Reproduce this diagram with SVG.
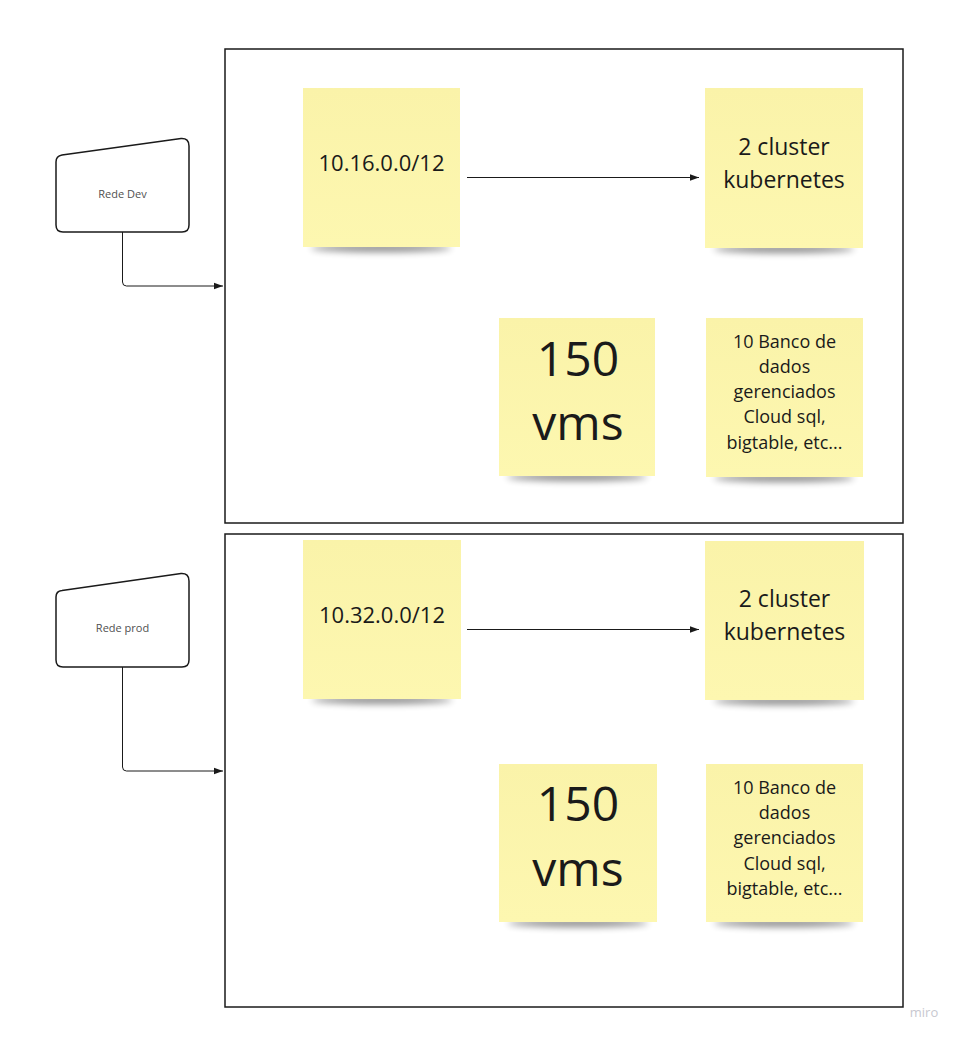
<svg xmlns="http://www.w3.org/2000/svg" width="962" height="1039" viewBox="0 0 962 1039">
<defs>
<style>
.frame{fill:#fff;stroke:#1a1a1a;stroke-width:1.5}
.net{fill:#fff;stroke:#1a1a1a;stroke-width:1.5}
.netlbl{font-family:"Open Sans","Liberation Sans",sans-serif;font-size:11px;fill:#505050;text-anchor:middle}
.sticky{fill:url(#sg)}
.st{font-family:"Open Sans","Liberation Sans",sans-serif;fill:#1a1a1a;text-anchor:middle}
.conn{fill:none;stroke:#1a1a1a;stroke-width:1}
.shadow{fill:#000;opacity:0.45;filter:url(#blur)}
</style>
<linearGradient id="sg" x1="0" y1="0" x2="0" y2="1">
<stop offset="0" stop-color="#faf3a9"/>
<stop offset="1" stop-color="#fdf7b0"/>
</linearGradient>
<filter id="blur" x="-20%" y="-200%" width="140%" height="500%"><feGaussianBlur stdDeviation="3.5"/></filter>
<marker id="arr" markerWidth="10" markerHeight="8" refX="9" refY="4" orient="auto" markerUnits="userSpaceOnUse">
<path d="M0,0.8 L9,4 L0,7.2 Z" fill="#1a1a1a"/>
</marker>
</defs>
<rect width="962" height="1039" fill="#fff"/>

<g id="frame-dev"><rect class="frame" x="225" y="49" width="678" height="474"/></g>
<g id="frame-prod"><rect class="frame" x="225" y="534" width="678" height="473"/></g>

<g id="rede-dev">
<path class="net" d="M62,155 L181,138.5 Q189,138 189,146 L189,225 Q189,232 182,232 L63,232 Q56,232 56,225 L56,162 Q56,156 62,155 Z"/>
<text class="netlbl" x="122.5" y="198">Rede Dev</text>
</g>
<g id="rede-prod">
<path class="net" d="M62,590.5 L181,573.5 Q189,573 189,581 L189,660 Q189,667 182,667 L63,667 Q56,667 56,660 L56,597 Q56,591 62,590.5 Z"/>
<text class="netlbl" x="122.5" y="632">Rede prod</text>
</g>

<g id="dev-cidr">
<ellipse class="shadow" cx="381" cy="248" rx="70" ry="4"/>
<rect class="sticky" x="303" y="88" width="157" height="159"/>
<text class="st" x="381.5" y="171" font-size="22">10.16.0.0/12</text>
</g>
<g id="dev-k8s">
<ellipse class="shadow" cx="784" cy="249" rx="70" ry="4"/>
<rect class="sticky" x="705" y="88" width="158" height="160"/>
<text class="st" x="784" y="155" font-size="23">2 cluster</text>
<text class="st" x="784" y="188" font-size="23">kubernetes</text>
</g>
<g id="dev-vms">
<ellipse class="shadow" cx="577" cy="477" rx="70" ry="4"/>
<rect class="sticky" x="499" y="318" width="156" height="158"/>
<text class="st" x="578" y="376" font-size="48">150</text>
<text class="st" x="578" y="440" font-size="48">vms</text>
</g>
<g id="dev-db">
<ellipse class="shadow" cx="784" cy="478" rx="70" ry="4"/>
<rect class="sticky" x="706" y="318" width="157" height="159"/>
<text class="st" x="784.5" y="348" font-size="18">10 Banco de</text>
<text class="st" x="784.5" y="373" font-size="18">dados</text>
<text class="st" x="784.5" y="398" font-size="18">gerenciados</text>
<text class="st" x="784.5" y="423" font-size="18">Cloud sql,</text>
<text class="st" x="784.5" y="449" font-size="18">bigtable, etc...</text>
</g>

<g id="prod-cidr">
<ellipse class="shadow" cx="382" cy="700" rx="70" ry="4"/>
<rect class="sticky" x="303" y="540" width="158" height="159"/>
<text class="st" x="382" y="623" font-size="22">10.32.0.0/12</text>
</g>
<g id="prod-k8s">
<ellipse class="shadow" cx="784" cy="701" rx="70" ry="4"/>
<rect class="sticky" x="705" y="541" width="159" height="159"/>
<text class="st" x="784.5" y="607" font-size="23">2 cluster</text>
<text class="st" x="784.5" y="640" font-size="23">kubernetes</text>
</g>
<g id="prod-vms">
<ellipse class="shadow" cx="578" cy="923" rx="70" ry="4"/>
<rect class="sticky" x="499" y="764" width="158" height="158"/>
<text class="st" x="578" y="821" font-size="48">150</text>
<text class="st" x="578" y="886" font-size="48">vms</text>
</g>
<g id="prod-db">
<ellipse class="shadow" cx="784" cy="923" rx="70" ry="4"/>
<rect class="sticky" x="706" y="764" width="157" height="158"/>
<text class="st" x="784.5" y="794" font-size="18">10 Banco de</text>
<text class="st" x="784.5" y="819" font-size="18">dados</text>
<text class="st" x="784.5" y="844" font-size="18">gerenciados</text>
<text class="st" x="784.5" y="870" font-size="18">Cloud sql,</text>
<text class="st" x="784.5" y="895" font-size="18">bigtable, etc...</text>
</g>

<g id="connectors">
<path class="conn" d="M122.5,232 L122.5,282 Q122.5,286 126.5,286 L223,286" marker-end="url(#arr)"/>
<path class="conn" d="M122.5,667 L122.5,767 Q122.5,771 126.5,771 L223,771" marker-end="url(#arr)"/>
<path class="conn" d="M467,177.5 L699,177.5" marker-end="url(#arr)"/>
<path class="conn" d="M467,629.5 L699,629.5" marker-end="url(#arr)"/>
</g>

<text x="924" y="1017" font-family="Open Sans, Liberation Sans, sans-serif" font-size="13" fill="#c8c8d0" text-anchor="middle">miro</text>
</svg>
